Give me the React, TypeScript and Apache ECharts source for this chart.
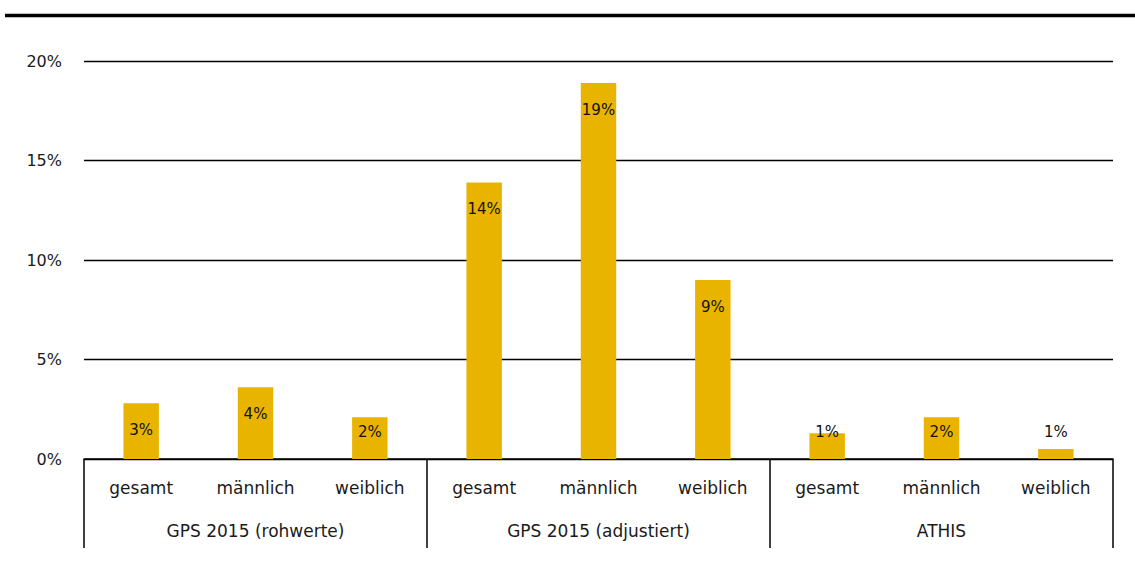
import React, { useEffect, useRef } from "react";
import * as echarts from "echarts";

const subCategories = [
  "gesamt", "männlich", "weiblich",
  "gesamt", "männlich", "weiblich",
  "gesamt", "männlich", "weiblich",
];
const groups = ["GPS 2015 (rohwerte)", "GPS 2015 (adjustiert)", "ATHIS"];
const values = [2.8, 3.6, 2.1, 13.9, 18.9, 9.0, 1.3, 2.1, 0.5];
const yTicks = { min: 0, max: 20, interval: 5 };

const FONT = "DejaVu Sans";

export default function App() {
  const ref = useRef<HTMLDivElement>(null);
  useEffect(() => {
    if (!ref.current) return;
    const chart = echarts.init(ref.current, null, { renderer: "svg" });
    const data = values.map((v) => {
      const tall = v > 2.7;
      return {
        value: v,
        label: tall
          ? { position: "insideTop", distance: 19.5 }
          : { position: "insideBottom", distance: 19.5 },
      };
    });
    chart.setOption({
      animation: false,
      backgroundColor: "#ffffff",
      textStyle: { fontFamily: FONT },
      grid: { left: 84, right: 22, top: 61, bottom: 102, containLabel: false },
      graphic: [
        {
          type: "line",
          shape: { x1: 5, y1: 15.5, x2: 1135, y2: 15.5 },
          style: { stroke: "#000", lineWidth: 3.5 },
          z: 10,
        },
      ],
      xAxis: [
        {
          type: "category",
          data: subCategories,
          position: "bottom",
          axisLine: { show: true, lineStyle: { color: "#000", width: 1.5 } },
          axisTick: { show: false },
          axisLabel: {
            interval: 0,
            margin: 20,
            fontSize: 17,
            color: "#1a1a1a",
            fontFamily: FONT,
          },
        },
        {
          type: "category",
          data: groups,
          position: "bottom",
          axisLine: { show: false },
          axisTick: {
            show: true,
            length: 89,
            inside: false,
            lineStyle: { color: "#000", width: 1.5 },
          },
          axisLabel: {
            interval: 0,
            margin: 63,
            fontSize: 17,
            color: "#1a1a1a",
            fontFamily: FONT,
          },
        },
      ],
      yAxis: {
        type: "value",
        min: yTicks.min,
        max: yTicks.max,
        interval: yTicks.interval,
        axisLine: { show: false },
        axisTick: { show: false },
        axisLabel: {
          formatter: "{value}%",
          margin: 22,
          fontSize: 16,
          color: "#1a1a1a",
          fontFamily: FONT,
        },
        splitLine: { show: true, lineStyle: { color: "#000", width: 1.4 } },
      },
      series: [
        {
          type: "bar",
          xAxisIndex: 0,
          data,
          barWidth: "31%",
          itemStyle: { color: "#E9B400" },
          label: {
            show: true,
            formatter: (p: any) => Math.round(p.value) + "%",
            fontSize: 15,
            color: "#111",
            fontFamily: FONT,
          },
        },
      ],
    });
    return () => chart.dispose();
  }, []);
  return (
    <div
      ref={ref}
      style={{ position: "fixed", left: 0, top: 0, width: 1135, height: 561 }}
    />
  );
}
